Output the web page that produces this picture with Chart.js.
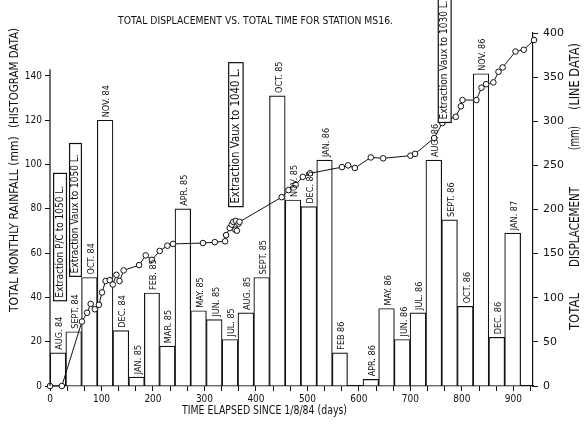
<!DOCTYPE html>
<html>
<head>
<meta charset="utf-8">
<script src="https://cdn.jsdelivr.net/npm/chart.js@4/dist/chart.umd.min.js"></script>
<style>
body { margin: 0; background: #fff; }
#box { width: 584px; height: 429px; }
</style>
</head>
<body>
<div id="box"><canvas id="chart"></canvas></div>
<script>
// ----------------------------------------------------------------------
//	total displacement vs. total time, station MS16
// ----------------------------------------------------------------------
const month_labels = ["AUG. 84","SEPT. 84","OCT. 84","NOV. 84","DEC. 84","JAN. 85",
	"FEB. 85","MAR. 85","APR. 85","MAY. 85","JUN. 85","JUL. 85","AUG. 85",
	"SEPT. 85","OCT. 85","NOV. 85","DEC. 85","JAN. 86","FEB 86","","APR. 86",
	"MAY. 86","JUN. 86","JUL. 86","AUG. 86","SEPT. 86","OCT. 86","NOV. 86",
	"DEC. 86","JAN. 87"]
const month_start = [0,31,61,92,122,153,184,212,243,273,304,334,365,396,426,
	457,487,518,549,577,608,638,669,699,730,761,791,822,852,883]
const month_end = [31,61,92,122,153,184,212,243,273,304,334,365,396,426,457,
	487,518,549,577,608,638,669,699,730,761,791,822,852,883,914]
const rainfall = [15,24.5,49,120,25,4,42,18,80,34,30,21,33,49,131,84,81,102,
	15,0,3,35,21,33,102,75,36,141,22,69]

const disp_days = [0,23,62,72,79,87,95,101,108,116,122,129,135,143,173,186,198,
	213,228,239,297,320,340,342,349,353,356,361,366,360,363,368,450,463,477,
	491,505,567,579,592,623,647,700,709,746,762,772,788,798,801,828,838,847,
	861,871,879,904,920,940]
const displacement = [0,0,73,83,93,87,92,106,119,120,115,126,119,131,137,148,
	143,153,159,161,162,163,164,171,179,183,186,187,184,177,176,186,214,222,
	228,237,241,248,250,247,259,258,261,263,281,298,302,305,317,324,324,338,
	342,344,356,361,379,381,392]

const x_ticks = [0,100,200,300,400,500,600,700,800,900]
const rain_ticks = [0,20,40,60,80,100,120,140]
const disp_ticks = [0,50,100,150,200,250,300,350,400]

// notes drawn in boxes: text, day from, day to, rainfall from, rainfall to
const note_text = ["Extraction P/C to 1050 L.","Extraction Vaux to 1050 L.",
	"Extraction Vaux to 1040 L.","Extraction Vaux to 1030 L."]
const note_day0 = [7,38,347,754]
const note_day1 = [32,61,375,779]
const note_rain0 = [38.5,49.5,81,119]
const note_rain1 = [96,109.5,146,185]

const NARROW = '"Liberation Sans Narrow", "DejaVu Sans Condensed", "Liberation Sans", sans-serif'
const PLAIN = '"DejaVu Sans", "Liberation Sans", sans-serif'
const INK = '#111'

// ----------------------------------------------------------------------
function vtext (ctx,text,x,y,font,maxw)
{
	ctx.save()
	ctx.translate(x,y)
	ctx.rotate(-Math.PI / 2)
	ctx.font = font
	ctx.textAlign = 'left'
	ctx.textBaseline = 'middle'
	if (maxw)
		ctx.fillText(text,0,0,maxw)
	else
		ctx.fillText(text,0,0)
	ctx.restore()
}

// ----------------------------------------------------------------------
const extras = {
	id: 'extras',
	afterDatasetsDraw (chart)
	{
	const ctx = chart.ctx
	const xs = chart.scales.x
	const yl = chart.scales.yL
	const area = chart.chartArea
	ctx.save()
	ctx.fillStyle = INK
	ctx.strokeStyle = INK

	// left axis line stops a little over 140
	ctx.lineWidth = 1.2
	ctx.beginPath()
	ctx.moveTo(area.left,area.bottom)
	ctx.lineTo(area.left,yl.getPixelForValue(143))
	ctx.stroke()

	// month labels above the bars
	for (let it in month_labels)
		{
		if (!month_labels[it]) continue
		const cx = xs.getPixelForValue((month_start[it] + month_end[it]) / 2) + 2
		const top = yl.getPixelForValue(rainfall[it])
		vtext(ctx,month_labels[it],cx,top - 3,'9px ' + NARROW)
		}

	// boxed notes
	for (let it in note_text)
		{
		const x0 = xs.getPixelForValue(note_day0[it])
		const x1 = xs.getPixelForValue(note_day1[it])
		const y0 = yl.getPixelForValue(note_rain0[it])
		const y1 = yl.getPixelForValue(note_rain1[it])
		ctx.fillStyle = '#fff'
		ctx.fillRect(x0,y1,x1 - x0,y0 - y1)
		ctx.lineWidth = 1.2
		ctx.strokeRect(x0,y1,x1 - x0,y0 - y1)
		ctx.fillStyle = INK
		const size = (x1 - x0) > 13 ? 12 : 10
		const maxw = Math.min(y0 - y1 - 6,note_text[it].length * 5.2)
		vtext(ctx,note_text[it],(x0 + x1) / 2,y0 - 3,size + 'px ' + NARROW,maxw)
		}

	// titles
	ctx.font = '11px ' + NARROW
	ctx.textAlign = 'left'
	ctx.textBaseline = 'middle'
	ctx.fillText("TOTAL DISPLACEMENT VS. TOTAL TIME FOR STATION MS16.",118,21,275)
	ctx.font = '12px ' + NARROW
	ctx.fillText("TIME ELAPSED SINCE 1/8/84 (days)",182,411,165)

	vtext(ctx,"TOTAL MONTHLY RAINFALL (mm)",15,312,'12px ' + NARROW,177)
	vtext(ctx,"(HISTOGRAM DATA)",15,128,'12px ' + NARROW,100)

	vtext(ctx,"TOTAL",575,330,'14px ' + PLAIN,37)
	vtext(ctx,"DISPLACEMENT",575,267,'14px ' + PLAIN,80)
	vtext(ctx,"(mm)",575,150,'14px ' + PLAIN,24)
	vtext(ctx,"(LINE DATA)",575,110,'14px ' + PLAIN,67)
	ctx.restore()
	}
}

// ----------------------------------------------------------------------
function build_data ()
{
	const bars = []
	for (let it in rainfall)
		bars.push({x: (month_start[it] + month_end[it]) / 2, y: rainfall[it]})

	const points = []
	for (let it in disp_days)
		points.push({x: disp_days[it], y: displacement[it]})

	return {
		datasets: [
			{
			type: 'line',
			data: points,
			yAxisID: 'yR',
			order: 0,
			borderColor: INK,
			borderWidth: 1,
			tension: 0,
			clip: false,
			pointRadius: 2.8,
			pointBorderWidth: 1,
			pointBackgroundColor: '#fff',
			pointBorderColor: INK
			},
			{
			type: 'bar',
			data: bars,
			yAxisID: 'yL',
			order: 1,
			backgroundColor: '#fff',
			borderColor: INK,
			borderWidth: 1.2,
			barThickness: 'flex',
			barPercentage: 1,
			categoryPercentage: 1
			}
		]
	}
}

// ----------------------------------------------------------------------
function axis_grid ()
{
	return {display: true, drawOnChartArea: false, drawTicks: true,
		tickLength: 5, color: INK, lineWidth: 1}
}

// ----------------------------------------------------------------------
function prog01 ()
{
	const config = {
		data: build_data(),
		plugins: [extras],
		options: {
			responsive: true,
			maintainAspectRatio: false,
			animation: false,
			layout: {padding: {top: 33, left: 0, right: 0, bottom: 0}},
			plugins: {legend: {display: false}, tooltip: {enabled: false}},
			scales: {
				x: {
					type: 'linear',
					position: 'bottom',
					offset: false,
					min: 0,
					max: 938,
					afterBuildTicks: (scale) => {
						const ticks = []
						for (let k = 0; k <= 28; k++)
							ticks.push({value: k * 100 / 3})
						scale.ticks = ticks
						},
					afterFit: (scale) => { scale.height = 43 },
					ticks: {
						autoSkip: false,
						maxRotation: 0,
						padding: 2,
						color: INK,
						font: {family: NARROW, size: 10},
						callback: (v) => {
							const r = Math.round(v)
							return x_ticks.includes(r) && Math.abs(v - r) < 0.01 ? String(r) : ''
							}
						},
					grid: {display: true, drawOnChartArea: false, drawTicks: true,
						tickLength: 5, color: INK, lineWidth: 1, offset: false},
					border: {display: true, color: INK, width: 1.2}
					},
				yL: {
					type: 'linear',
					position: 'left',
					min: 0,
					max: 159.4,
					afterBuildTicks: (scale) => {
						scale.ticks = rain_ticks.map(v => ({value: v}))
						},
					afterFit: (scale) => { scale.width = 50 },
					ticks: {color: INK, padding: 3, font: {family: NARROW, size: 10}},
					grid: axis_grid(),
					border: {display: false}
					},
				yR: {
					type: 'linear',
					position: 'right',
					min: 0,
					max: 400,
					afterBuildTicks: (scale) => {
						scale.ticks = disp_ticks.map(v => ({value: v}))
						},
					afterFit: (scale) => { scale.width = 51 },
					ticks: {color: INK, padding: 5, font: {family: PLAIN, size: 11}},
					grid: axis_grid(),
					border: {display: true, color: INK, width: 1.2}
					}
				}
			}
		}

	const context = document.getElementById("chart")
	const chart = new Chart(context,config)
}

prog01()
// ----------------------------------------------------------------------
</script>
</body>
</html>
